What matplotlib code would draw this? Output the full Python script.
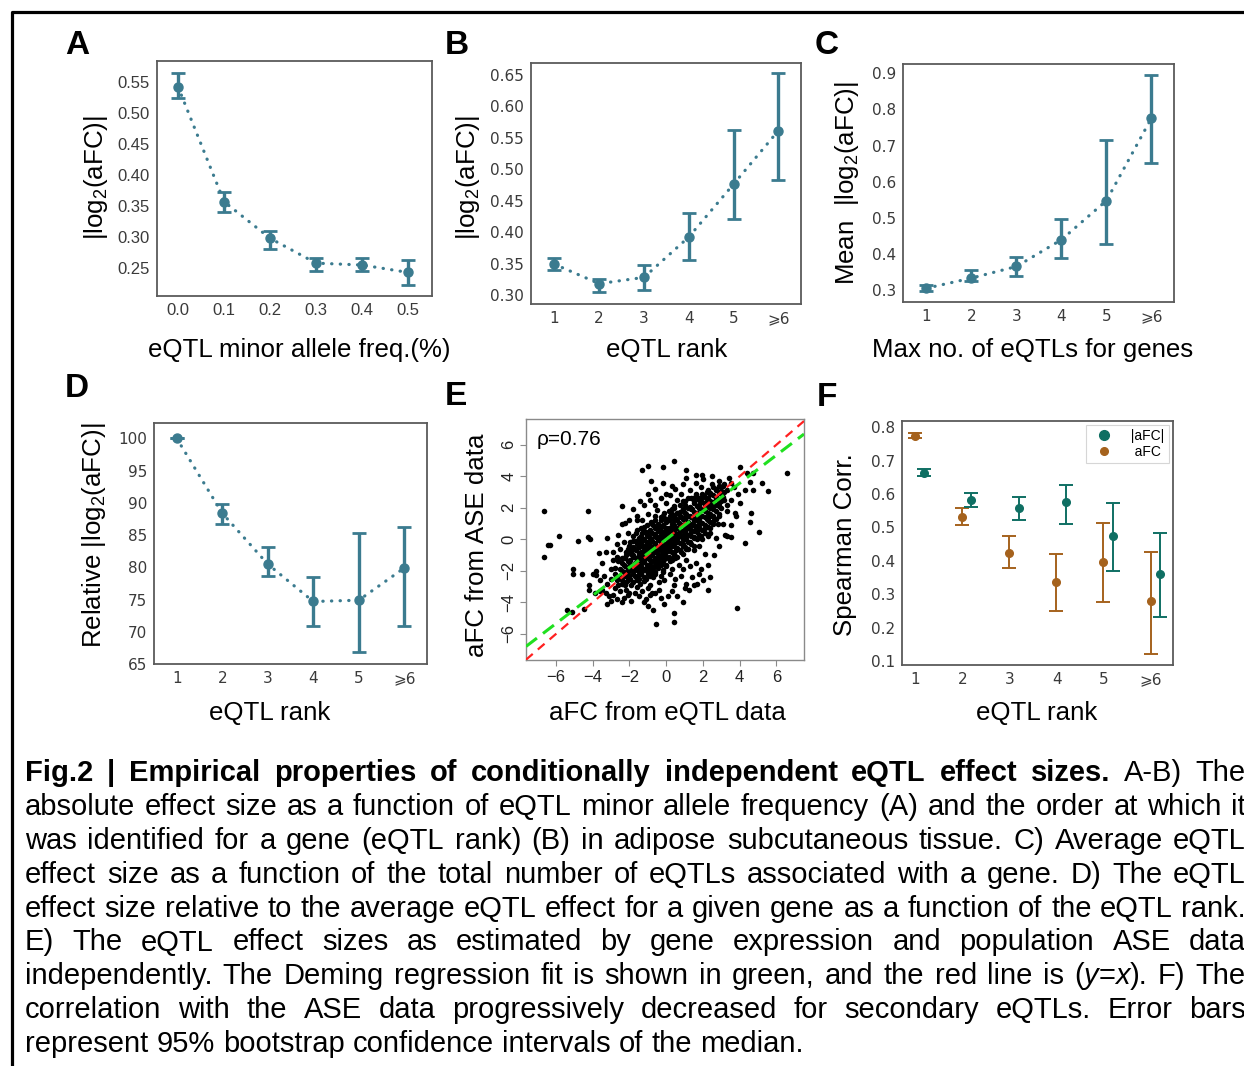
import matplotlib
matplotlib.use("Agg")
import matplotlib.pyplot as plt
from matplotlib.lines import Line2D
import numpy as np

# ---- data ----
maf_bins = [0.0, 0.1, 0.2, 0.3, 0.4, 0.5]
maf_afc = [0.542, 0.357, 0.298, 0.258, 0.255, 0.243]
maf_lo = [0.524, 0.340, 0.281, 0.246, 0.245, 0.223]
maf_hi = [0.565, 0.372, 0.310, 0.267, 0.266, 0.263]

rank_pos = [1, 2, 3, 4, 5, 6]
rank_labels = ['1', '2', '3', '4', '5', '⩾6']

rank_afc = [0.349, 0.318, 0.328, 0.392, 0.476, 0.561]
rank_lo = [0.340, 0.304, 0.308, 0.356, 0.420, 0.482]
rank_hi = [0.358, 0.325, 0.348, 0.431, 0.562, 0.652]

nqtl_afc = [0.306, 0.334, 0.366, 0.440, 0.548, 0.776]
nqtl_lo = [0.297, 0.325, 0.339, 0.389, 0.427, 0.653]
nqtl_hi = [0.316, 0.355, 0.392, 0.497, 0.714, 0.894]

rel_afc = [100.0, 88.4, 80.5, 74.7, 74.9, 79.9]
rel_lo = [100.0, 86.7, 78.7, 70.9, 66.8, 70.9]
rel_hi = [100.0, 89.8, 83.2, 78.5, 85.4, 86.3]

spear_abs = [0.664, 0.582, 0.559, 0.575, 0.475, 0.361]
spear_abs_lo = [0.654, 0.562, 0.522, 0.510, 0.370, 0.233]
spear_abs_hi = [0.674, 0.604, 0.592, 0.627, 0.572, 0.483]
spear_sig = [0.775, 0.532, 0.425, 0.336, 0.396, 0.280]
spear_sig_lo = [0.767, 0.507, 0.378, 0.251, 0.276, 0.121]
spear_sig_hi = [0.782, 0.557, 0.473, 0.420, 0.514, 0.428]

rho_text = 'ρ=0.76'
deming_slope = 0.89
deming_intercept = 0.0

# aFC from eQTL data (x) vs aFC from ASE data (y)
ase_core = [
    (-3.3, -3.4), (-3.1, -3.6), (-2.9, -3.5), (-2.7, -3.8), (-2.5, -3.3), (-2.3, -3.7), (-2.1, -3.5),
    (-1.9, -3.9), (-1.7, -3.4), (-1.5, -3.6), (-1.3, -3.3), (-1.1, -3.8), (-0.9, -3.5), (-0.6, -3.4),
    (-0.3, -3.7), (0.1, -3.6), (-2.8, -3.1), (-2.2, -3.2), (-1.6, -3.05), (-1.0, -3.1), (-0.4, -3.2),
    (0.3, -3.3), (-3.6, -3.3), (-2.4, -4.0), (-1.2, -4.0), (-3.0, -3.9),
    (-3.2, -2.8), (-3.0, -2.5), (-2.8, -2.2), (-2.6, -2.9), (-2.5, -2.4), (-2.3, -2.1), (-2.2, -2.7),
    (-2.0, -2.3), (-1.9, -2.9), (-1.8, -2.0), (-1.6, -2.6), (-1.5, -2.2), (-1.4, -2.8), (-1.3, -2.0),
    (-1.1, -2.5), (-1.0, -2.2), (-0.9, -2.9), (-0.7, -2.4), (-0.6, -2.1), (-0.4, -2.7), (-0.3, -2.3),
    (-0.1, -2.6), (0.2, -2.2), (0.5, -2.5), (0.8, -2.3), (1.1, -2.8), (-2.7, -2.6), (-2.1, -2.45),
    (-1.7, -2.35), (-1.2, -2.65), (-0.8, -2.15), (-0.2, -2.05), (0.4, -2.9), (1.4, -2.4), (-3.4, -2.3),
    (-2.4, -2.85),
    (-2.8, -1.8), (-2.6, -1.4), (-2.5, -1.9), (-2.4, -1.2), (-2.3, -1.6), (-2.2, -1.0), (-2.1, -1.85),
    (-2.0, -1.35), (-1.9, -1.7), (-1.8, -1.1), (-1.7, -1.5), (-1.6, -1.95), (-1.5, -1.25), (-1.4, -1.65),
    (-1.3, -1.05), (-1.2, -1.45), (-1.1, -1.9), (-1.0, -1.2), (-0.9, -1.6), (-0.8, -1.0), (-0.7, -1.8),
    (-0.6, -1.35), (-0.5, -1.7), (-0.4, -1.1), (-0.3, -1.5), (-0.2, -1.95), (-0.1, -1.25), (0.0, -1.6),
    (0.2, -1.4), (0.3, -1.85), (0.5, -1.2), (0.7, -1.6), (0.9, -1.9), (1.1, -1.3), (1.3, -1.7),
    (1.6, -1.5), (-2.7, -1.1), (-1.95, -1.55), (-1.55, -1.75), (-1.25, -1.3), (-0.85, -1.4),
    (-0.45, -1.5), (-0.05, -1.05), (0.4, -1.05), (-2.9, -1.3), (1.9, -1.9),
    (-2.5, -0.6), (-2.3, -0.2), (-2.2, -0.8), (-2.0, -0.4), (-1.9, -0.9), (-1.8, -0.1), (-1.7, -0.6),
    (-1.6, -0.3), (-1.5, -0.85), (-1.4, -0.45), (-1.3, -0.1), (-1.2, -0.7), (-1.1, -0.35), (-1.0, -0.9),
    (-0.9, -0.15), (-0.8, -0.55), (-0.7, -0.8), (-0.6, -0.25), (-0.5, -0.65), (-0.4, -0.05),
    (-0.3, -0.45), (-0.2, -0.85), (-0.1, -0.3), (0.0, -0.6), (0.1, -0.15), (0.2, -0.75), (0.3, -0.4),
    (0.4, -0.9), (0.5, -0.2), (0.6, -0.55), (0.8, -0.8), (0.9, -0.3), (1.1, -0.6), (1.3, -0.15),
    (1.5, -0.7), (1.8, -0.4), (-2.7, -0.3), (-1.45, -0.2), (-1.05, -0.6), (-0.65, -0.45), (-0.25, -0.65),
    (0.15, -0.4), (0.55, -0.7), (-1.85, -0.7), (2.1, -0.9), (-2.9, -0.8),
    (-1.8, 0.2), (-1.6, 0.6), (-1.5, 0.1), (-1.3, 0.4), (-1.2, 0.8), (-1.0, 0.2), (-0.9, 0.55),
    (-0.8, 0.05), (-0.7, 0.9), (-0.6, 0.35), (-0.5, 0.7), (-0.4, 0.15), (-0.3, 0.5), (-0.2, 0.85),
    (-0.1, 0.3), (0.0, 0.6), (0.1, 0.1), (0.2, 0.45), (0.3, 0.8), (0.4, 0.25), (0.5, 0.65), (0.6, 0.05),
    (0.7, 0.4), (0.8, 0.9), (0.9, 0.2), (1.0, 0.55), (1.1, 0.05), (1.2, 0.75), (1.3, 0.35), (1.4, 0.9),
    (1.5, 0.15), (1.7, 0.5), (1.9, 0.2), (2.1, 0.7), (2.4, 0.4), (-2.1, 0.4), (-1.1, 0.45), (-0.55, 0.15),
    (0.05, 0.35), (0.55, 0.35), (1.05, 0.3), (1.6, 0.75), (-0.15, 0.1), (0.35, 0.05), (2.7, 0.1),
    (-1.3, 1.2), (-1.0, 1.6), (-0.8, 1.1), (-0.6, 1.45), (-0.5, 1.85), (-0.3, 1.25), (-0.1, 1.7),
    (0.0, 1.1), (0.2, 1.5), (0.3, 1.9), (0.4, 1.2), (0.6, 1.65), (0.7, 1.05), (0.8, 1.4), (0.9, 1.85),
    (1.0, 1.25), (1.1, 1.6), (1.2, 1.05), (1.3, 1.45), (1.4, 1.9), (1.5, 1.2), (1.6, 1.6), (1.8, 1.1),
    (1.9, 1.5), (2.1, 1.85), (2.2, 1.3), (2.4, 1.6), (2.6, 1.2), (2.9, 1.5), (-0.2, 1.45), (0.5, 1.35),
    (1.05, 1.4), (1.7, 1.35), (0.15, 1.25), (0.75, 1.75), (-1.6, 1.5), (3.1, 1.0),
    (-0.6, 2.2), (-0.3, 2.6), (0.0, 2.3), (0.2, 2.8), (0.4, 2.1), (0.6, 2.5), (0.8, 2.9), (1.0, 2.2),
    (1.2, 2.6), (1.3, 2.05), (1.5, 2.4), (1.6, 2.85), (1.8, 2.2), (1.9, 2.6), (2.1, 2.05), (2.2, 2.45),
    (2.4, 2.9), (2.5, 2.2), (2.7, 2.6), (2.9, 2.3), (3.1, 2.7), (3.3, 2.2), (-0.9, 2.5), (0.9, 2.45),
    (1.45, 2.65), (2.05, 2.75), (3.5, 2.5),
    (0.5, 3.2), (0.9, 3.5), (1.3, 3.1), (1.6, 3.6), (1.9, 3.3), (2.2, 3.0), (2.5, 3.5), (2.7, 3.2),
    (2.9, 3.7), (3.1, 3.4), (3.3, 3.1), (3.5, 3.6), (3.7, 3.3), (2.0, 3.8), (1.1, 3.9), (3.0, 3.05),
]
# densest part of the cloud, listed column by column: (x, [y values])
ase_dense_cols = [
    (-2.4, [-2.6, -2.0, -1.5]),
    (-2.25, [-2.9, -2.3, -1.7, -1.2]),
    (-2.1, [-2.6, -2.1, -1.4, -0.6]),
    (-1.95, [-2.5, -1.9, -1.3, -0.8, -0.2]),
    (-1.8, [-2.7, -2.2, -1.6, -1.0, -0.5]),
    (-1.65, [-2.4, -1.8, -1.2, -0.7, -0.1, 0.4]),
    (-1.5, [-2.5, -2.0, -1.5, -1.0, -0.5, 0.0]),
    (-1.35, [-2.2, -1.7, -1.2, -0.8, -0.3, 0.2, 0.7]),
    (-1.2, [-2.4, -1.9, -1.4, -1.0, -0.5, 0.0, 0.5]),
    (-1.05, [-2.0, -1.6, -1.1, -0.7, -0.2, 0.3, 0.9]),
    (-0.9, [-2.3, -1.8, -1.3, -0.9, -0.4, 0.1, 0.6]),
    (-0.75, [-1.9, -1.4, -1.0, -0.6, -0.1, 0.4, 1.0]),
    (-0.6, [-2.2, -1.6, -1.2, -0.8, -0.3, 0.2, 0.7, 1.2]),
    (-0.45, [-1.8, -1.3, -0.9, -0.5, 0.0, 0.5, 1.0]),
    (-0.3, [-1.6, -1.1, -0.7, -0.2, 0.3, 0.8, 1.4]),
    (-0.15, [-1.4, -0.9, -0.5, 0.0, 0.45, 0.9, 1.5]),
    (0.0, [-1.7, -1.2, -0.8, -0.35, 0.15, 0.7, 1.3]),
    (0.15, [-1.1, -0.6, -0.1, 0.3, 0.75, 1.2, 1.8]),
    (0.3, [-1.3, -0.8, -0.3, 0.2, 0.6, 1.0, 1.6]),
    (0.45, [-0.9, -0.45, 0.0, 0.45, 0.9, 1.4, 2.0]),
    (0.6, [-1.1, -0.6, -0.2, 0.25, 0.7, 1.2, 1.7]),
    (0.75, [-0.7, -0.25, 0.2, 0.6, 1.0, 1.5, 2.2]),
    (0.9, [-0.9, -0.4, 0.05, 0.5, 0.9, 1.3, 1.9]),
    (1.05, [-0.5, 0.0, 0.4, 0.8, 1.2, 1.7, 2.4]),
    (1.2, [-0.6, -0.2, 0.25, 0.7, 1.1, 1.5, 2.0]),
    (1.35, [-0.3, 0.2, 0.6, 1.0, 1.4, 1.9, 2.6]),
    (1.5, [-0.4, 0.1, 0.5, 0.9, 1.3, 1.75, 2.3]),
    (1.65, [0.0, 0.45, 0.85, 1.25, 1.7, 2.1, 2.7]),
    (1.8, [0.3, 0.8, 1.2, 1.6, 2.0, 2.5]),
    (1.95, [0.0, 0.6, 1.05, 1.5, 1.9, 2.35, 2.9]),
    (2.1, [0.4, 0.9, 1.4, 1.8, 2.25, 2.7]),
    (2.25, [0.2, 0.8, 1.2, 1.65, 2.1, 2.6, 3.1]),
    (2.4, [0.7, 1.1, 1.5, 2.0, 2.45, 2.95]),
    (2.55, [1.0, 1.45, 1.9, 2.35, 2.8, 3.3]),
    (2.7, [1.3, 1.8, 2.2, 2.7, 3.1]),
    (2.85, [1.6, 2.1, 2.5, 3.0, 3.4]),
    (3.0, [2.0, 2.4, 2.9, 3.3]),
    (3.15, [2.5, 3.0, 3.5]),
]
ase_halo = [
    (-3.8, -2.0), (-3.5, -1.5), (-3.3, -0.8), (-3.0, -1.9), (-3.6, -2.6), (-2.6, 0.3), (-2.4, 1.0),
    (-2.0, 1.2), (-1.8, 1.9), (-1.4, 2.4), (-1.0, 2.9), (-0.6, 3.2), (-0.2, 3.6), (0.3, 3.4), (0.0, 2.9),
    (-2.0, -3.4), (-1.0, -4.2), (0.6, -3.6), (1.0, -3.1), (1.5, -2.9), (1.8, -2.2), (2.3, -1.6),
    (2.6, -1.0), (2.9, -0.4), (3.2, 0.3), (3.5, 0.9), (3.8, 1.5), (4.0, 2.3), (3.9, 2.9), (3.4, 3.9),
    (2.5, 4.0), (1.6, 4.1), (-3.9, -3.4), (-4.2, -2.9), (-4.6, -2.2), (-3.2, -4.1), (2.0, -2.6),
    (0.9, -4.0), (2.8, 1.0), (3.3, 1.8), (-2.4, 2.1), (-0.8, 3.7),
]
ase_outliers = [
    (-6.67, 1.82), (-6.67, -1.10), (-6.45, -0.36), (-6.3, -0.36), (-5.86, 0.21), (-5.08, -1.9),
    (-5.08, -2.2), (-5.4, -4.45), (-5.13, -4.6), (-4.46, -4.4), (-4.82, -0.09), (-4.28, 1.82),
    (-4.28, 0.14), (-4.13, 0.03), (-4.22, -3.22), (-3.64, -0.89), (-3.23, 0.06), (-3.99, -2.2),
    (-3.8, -2.26), (-3.5, -3.22), (-2.23, 1.01), (-1.6, 1.2), (-1.32, 4.4), (-0.99, 4.65), (-0.2, 4.57),
    (0.4, 4.99), (1.07, 4.4), (1.94, 4.08), (-1.23, 2.18), (-0.72, -4.49), (-0.56, -5.38), (0.4, -4.7),
    (0.4, -5.23), (-0.14, -4.07), (-0.78, -3.4), (1.22, -3.22), (1.67, -2.8), (2.39, -2.37),
    (2.3, -3.22), (3.84, -4.38), (4.3, -0.26), (4.6, 1.65), (4.57, 1.11), (5.07, 0.48), (4.02, 4.61),
    (4.4, 4.19), (4.75, 4.19), (4.57, 3.66), (5.2, 3.55), (5.56, 3.09), (6.6, 4.19), (4.75, 3.13),
    (4.3, 3.13), (3.3, 0.2), (3.5, 0.15), (3.75, 1.65),
]

caption_lines = [
    "**Fig.2 **| **Empirical **properties **of **conditionally **independent **eQTL **effect **sizes. A-B) The",
    "absolute effect size as a function of eQTL minor allele frequency (A) and the order at which it",
    "was identified for a gene (eQTL rank) (B) in adipose subcutaneous tissue. C) Average eQTL",
    "effect size as a function of the total number of eQTLs associated with a gene. D) The eQTL",
    "effect size relative to the average eQTL effect for a given gene as a function of the eQTL rank.",
    "E) The eQTL effect sizes as estimated by gene expression and population ASE data",
    "independently. The Deming regression fit is shown in green, and the red line is (_y_=_x_). F) The",
    "correlation with the ASE data progressively decreased for secondary eQTLs. Error bars",
    "represent 95% bootstrap confidence intervals of the median.",
]

# ---- styling ----
W, H = 1244, 1066
plt.rcParams['font.family'] = ['Liberation Sans', 'DejaVu Sans']
plt.rcParams['mathtext.default'] = 'regular'

teal = '#3b7b8f'
f_teal = '#0f6f63'
f_brown = '#a5621d'
frame_col = '#5a5a5a'
tick_col = '#3a3a3a'
label_fs = 18.6
tick_fs = 11

fig = plt.figure(figsize=(W / 100, H / 100), dpi=100)


def px_axes(x0, y0, x1, y1):
    return fig.add_axes([x0 / W, 1 - y1 / H, (x1 - x0) / W, (y1 - y0) / H])


def ftext(x, y, s, **kw):
    return fig.text(x / W, 1 - y / H, s, **kw)


def style_box(ax, tick_family='DejaVu Sans', size=tick_fs):
    for sp in ax.spines.values():
        sp.set_color(frame_col)
        sp.set_linewidth(1.3)
    ax.tick_params(length=0, pad=5, labelsize=size, labelcolor=tick_col)
    for lab in ax.get_xticklabels() + ax.get_yticklabels():
        lab.set_family([tick_family, 'DejaVu Sans'])


def trend(ax, x, y, lo, hi):
    y = np.array(y)
    ax.plot(x, y, color=teal, lw=2.3, linestyle=(0, (0.1, 2.6)), dash_capstyle='round', zorder=2)
    ax.errorbar(x, y, yerr=[y - np.array(lo), np.array(hi) - y], fmt='o', color=teal, ms=6.5,
                elinewidth=2.4, capsize=5, capthick=2, zorder=3)


# frame around the whole figure (open at right and bottom)
fig.add_artist(Line2D([12 / W, 12 / W, 1.0], [0.0, 1 - 12 / H, 1 - 12 / H],
                      transform=fig.transFigure, color='black', lw=2.3))

# ---- A ----
axA = px_axes(157, 61, 432, 296)
trend(axA, maf_bins, maf_afc, maf_lo, maf_hi)
axA.set_xlim(-0.046, 0.552)
axA.set_ylim(0.205, 0.584)
axA.set_xticks(maf_bins)
axA.set_xticklabels([f'{v:.1f}' for v in maf_bins])
axA.set_yticks([0.25, 0.30, 0.35, 0.40, 0.45, 0.50, 0.55])
axA.set_yticklabels(['0.25', '0.30', '0.35', '0.40', '0.45', '0.50', '0.55'])
style_box(axA, 'Liberation Sans', 12)

# ---- B ----
axB = px_axes(531, 63, 801, 304)
trend(axB, rank_pos, rank_afc, rank_lo, rank_hi)
axB.set_xlim(0.479, 6.506)
axB.set_ylim(0.2857, 0.6685)
axB.set_xticks(rank_pos)
axB.set_xticklabels(rank_labels)
axB.set_yticks([0.30, 0.35, 0.40, 0.45, 0.50, 0.55, 0.60, 0.65])
axB.set_yticklabels(['0.30', '0.35', '0.40', '0.45', '0.50', '0.55', '0.60', '0.65'])
style_box(axB)

# ---- C ----
axC = px_axes(903, 64, 1174, 302)
trend(axC, rank_pos, nqtl_afc, nqtl_lo, nqtl_hi)
axC.set_xlim(0.48, 6.50)
axC.set_ylim(0.268, 0.925)
axC.set_xticks(rank_pos)
axC.set_xticklabels(rank_labels)
axC.set_yticks([0.3, 0.4, 0.5, 0.6, 0.7, 0.8, 0.9])
axC.set_yticklabels(['0.3', '0.4', '0.5', '0.6', '0.7', '0.8', '0.9'])
style_box(axC)

# ---- D ----
axD = px_axes(154, 423, 427, 664)
trend(axD, rank_pos, rel_afc, rel_lo, rel_hi)
axD.set_xlim(0.5, 6.5)
axD.set_ylim(65, 102.4)
axD.set_xticks(rank_pos)
axD.set_xticklabels(rank_labels)
axD.set_yticks([65, 70, 75, 80, 85, 90, 95, 100])
style_box(axD)

# ---- E ----
axE = px_axes(526, 419, 804, 660)
dense_pts = [(cx, cy) for cx, ys in ase_dense_cols for cy in ys]
all_pts = ase_core + dense_pts + ase_halo + ase_outliers
ex = [p[0] for p in all_pts]
ey = [p[1] for p in all_pts]
axE.scatter(ex, ey, s=16, color='black', linewidths=0, zorder=2)
axE.axline((0, 0), slope=1, color='#ff2020', lw=1.6, linestyle=(0, (4, 3)), zorder=3)
axE.axline((0, deming_intercept), slope=deming_slope, color='#20e020', lw=2.2,
           linestyle=(0, (4.5, 2.5)), zorder=4)
axE.set_xlim(-7.63, 7.50)
axE.set_ylim(-7.65, 7.63)
axE.set_xticks([-6, -4, -2, 0, 2, 4, 6])
axE.set_yticks([-6, -4, -2, 0, 2, 4, 6])
for sp in axE.spines.values():
    sp.set_color('#8a8a8a')
    sp.set_linewidth(1.0)
axE.tick_params(length=4, width=0.8, color='#8a8a8a', pad=3, labelsize=12, labelcolor='#222222')
plt.setp(axE.get_yticklabels(), rotation=90, va='center')
ftext(537, 445, rho_text, fontsize=15, va='baseline', ha='left')

# ---- F ----
axF = px_axes(902, 421, 1173, 665)
rp = np.array(rank_pos)
sa = np.array(spear_abs)
ss = np.array(spear_sig)
axF.errorbar(rp - 0.01, ss, yerr=[ss - np.array(spear_sig_lo), np.array(spear_sig_hi) - ss],
             fmt='o', color=f_brown, ms=5.5, elinewidth=1.4, capsize=5, capthick=1.4)
axF.errorbar(rp + 0.19, sa, yerr=[sa - np.array(spear_abs_lo), np.array(spear_abs_hi) - sa],
             fmt='o', color=f_teal, ms=5.5, elinewidth=1.4, capsize=5, capthick=1.4)
axF.set_xlim(0.718, 6.466)
axF.set_ylim(0.088, 0.819)
axF.set_xticks(rank_pos)
axF.set_xticklabels(rank_labels)
axF.set_yticks([0.1, 0.2, 0.3, 0.4, 0.5, 0.6, 0.7, 0.8])
axF.set_yticklabels(['0.1', '0.2', '0.3', '0.4', '0.5', '0.6', '0.7', '0.8'])
style_box(axF)
handles = [Line2D([], [], marker='o', ls='none', color=f_teal, ms=7),
           Line2D([], [], marker='o', ls='none', color=f_brown, ms=5.5)]
leg = axF.legend(handles, ['  |aFC|', '   aFC'], loc='upper right', fontsize=10, frameon=True,
                 fancybox=False, edgecolor='#cccccc', borderaxespad=0.3, handletextpad=0.4,
                 labelspacing=0.1, borderpad=0.3)
leg.get_frame().set_linewidth(0.8)

# ---- axis labels ----
ftext(299, 357, 'eQTL minor allele freq.(%)', fontsize=label_fs, ha='center', va='baseline')
ftext(667, 357, 'eQTL rank', fontsize=label_fs, ha='center', va='baseline')
ftext(1033, 357, 'Max no. of eQTLs for genes', fontsize=label_fs, ha='center', va='baseline')
ftext(270, 720, 'eQTL rank', fontsize=label_fs, ha='center', va='baseline')
ftext(667, 720, 'aFC from eQTL data', fontsize=label_fs, ha='center', va='baseline')
ftext(1037, 720, 'eQTL rank', fontsize=label_fs, ha='center', va='baseline')

ylab = '|log$_2$(aFC)|'
ftext(96, 178, ylab, fontsize=label_fs, rotation=90, ha='center', va='center')
ftext(468, 178, ylab, fontsize=label_fs, rotation=90, ha='center', va='center')
ftext(847, 183, 'Mean  ' + ylab, fontsize=label_fs, rotation=90, ha='center', va='center')
ftext(94, 535, 'Relative ' + ylab, fontsize=label_fs, rotation=90, ha='center', va='center')
ftext(477, 545, 'aFC from ASE data', fontsize=label_fs, rotation=90, ha='center', va='center')
ftext(845, 545, 'Spearman Corr.', fontsize=label_fs, rotation=90, ha='center', va='center')

# ---- panel letters ----
for letter, lx, ly in [('A', 65, 30), ('B', 445, 30), ('C', 815, 30),
                       ('D', 65, 373), ('E', 445, 381), ('F', 817, 382)]:
    ftext(lx, ly, letter, fontsize=24, weight='bold', ha='left', va='top')

# ---- justified caption ----
cap_fs = 21
cap_left, cap_right = 25, 1246
cap_base0, cap_step = 781, 33.9
renderer = fig.canvas.get_renderer()


def seg_width(s, weight, style):
    t = fig.text(0, 0, s, fontsize=cap_fs, weight=weight, style=style)
    w = t.get_window_extent(renderer).width
    t.remove()
    return w


def parse_word(word):
    weight = 'normal'
    if word.startswith('**'):
        weight = 'bold'
        word = word[2:]
    segs = []
    for i, part in enumerate(word.split('_')):
        if part:
            segs.append((part, weight, 'italic' if i % 2 else 'normal'))
    return segs


space_w = seg_width('a a', 'normal', 'normal') - seg_width('aa', 'normal', 'normal')
for li, line in enumerate(caption_lines):
    words = [parse_word(w) for w in line.split(' ')]
    widths = [[seg_width(*sg) for sg in segs] for segs in words]
    total = sum(sum(ws) for ws in widths)
    last = li == len(caption_lines) - 1
    gap = space_w if last else (cap_right - cap_left - total) / (len(words) - 1)
    x = cap_left
    yb = cap_base0 + li * cap_step
    for segs, ws in zip(words, widths):
        for (s, weight, style), w in zip(segs, ws):
            ftext(x, yb, s, fontsize=cap_fs, weight=weight, style=style, ha='left', va='baseline')
            x += w
        x += gap

fig.savefig('out.png', dpi=100)
